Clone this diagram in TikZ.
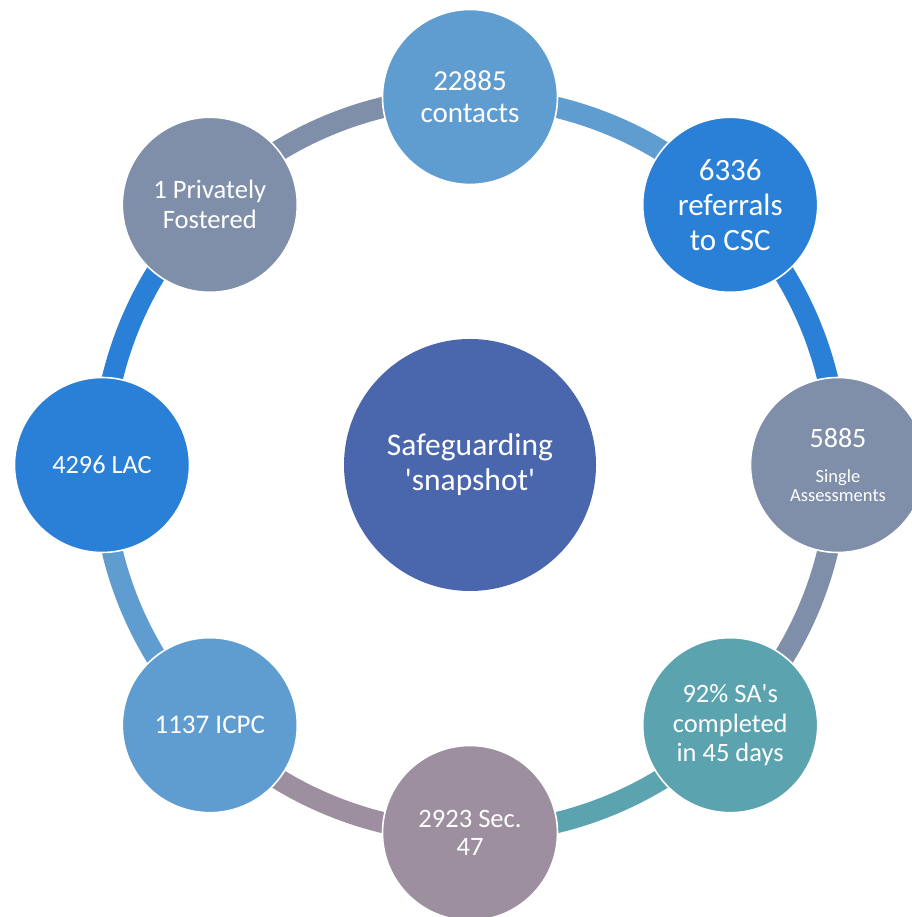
\documentclass[tikz,border=0pt]{standalone}
\usepackage{fontspec}
\setmainfont{Carlito}
\definecolor{cLight}{HTML}{5F9DD0}
\definecolor{cBlue}{HTML}{2A7FD6}
\definecolor{cGrey}{HTML}{7F8FA9}
\definecolor{cTeal}{HTML}{5BA3AF}
\definecolor{cMauve}{HTML}{9D8FA0}
\definecolor{cCenter}{HTML}{4A67AE}
\tikzset{
  bub/.style={circle, minimum size=175pt, inner sep=0pt, draw=white, line width=1.6pt,
    text=white, align=center, font=\fontsize{27}{30}\selectfont},
  hub/.style={circle, minimum size=252pt, inner sep=0pt, fill=cCenter,
    text=white, align=center, font=\fontsize{31.5}{35}\selectfont},
  ring/.style={line width=21pt}
}
\begin{document}
\begin{tikzpicture}[x=1pt,y=1pt]
\useasboundingbox (0,0) rectangle (911,917);
% node positions
\coordinate (c) at (470,452);
\coordinate (p1) at (470,820);
\coordinate (p2) at (730.2,712.2);
\coordinate (p3) at (838,452);
\coordinate (p4) at (730.2,191.8);
\coordinate (p5) at (470,84);
\coordinate (p6) at (209.8,191.8);
\coordinate (p7) at (102,452);
\coordinate (p8) at (209.8,712.2);
% ring segments
\draw[ring, draw=cLight] (p1) arc[start angle=90, end angle=45, radius=368pt];
\draw[ring, draw=cBlue]  (p2) arc[start angle=45, end angle=0, radius=368pt];
\draw[ring, draw=cGrey]  (p3) arc[start angle=0, end angle=-45, radius=368pt];
\draw[ring, draw=cTeal]  (p4) arc[start angle=-45, end angle=-90, radius=368pt];
\draw[ring, draw=cMauve] (p5) arc[start angle=-90, end angle=-135, radius=368pt];
\draw[ring, draw=cLight] (p6) arc[start angle=-135, end angle=-180, radius=368pt];
\draw[ring, draw=cBlue]  (p7) arc[start angle=180, end angle=135, radius=368pt];
\draw[ring, draw=cGrey]  (p8) arc[start angle=135, end angle=90, radius=368pt];
% nodes
\node[hub] (hub) at (c) {Safeguarding\\\textquotesingle snapshot\textquotesingle};
\node[bub, fill=cLight, font=\fontsize{29}{32}\selectfont] (n1) at (p1) {22885\\contacts};
\node[bub, fill=cBlue, font=\fontsize{31}{35}\selectfont] (n2) at (p2) {6336\\referrals\\to CSC};
\node[bub, fill=cGrey, font=\fontsize{18.5}{19}\selectfont] (n3) at (p3) {{\fontsize{28}{30}\selectfont 5885}\\[16pt]Single\\Assessments};
\node[bub, fill=cTeal, font=\fontsize{26.5}{29.5}\selectfont] (n4) at (p4) {92\% SA\textquotesingle s\\completed\\in 45 days};
\node[bub, fill=cMauve, font=\fontsize{26.6}{28.5}\selectfont] (n5) at (p5) {2923 Sec.\\47};
\node[bub, fill=cLight, font=\fontsize{27}{30}\selectfont] (n6) at (p6) {1137 ICPC};
\node[bub, fill=cBlue, font=\fontsize{26.3}{30}\selectfont] (n7) at (p7) {4296 LAC};
\node[bub, fill=cGrey, font=\fontsize{26.6}{30}\selectfont] (n8) at (p8) {1 Privately\\Fostered};
\end{tikzpicture}
\end{document}
